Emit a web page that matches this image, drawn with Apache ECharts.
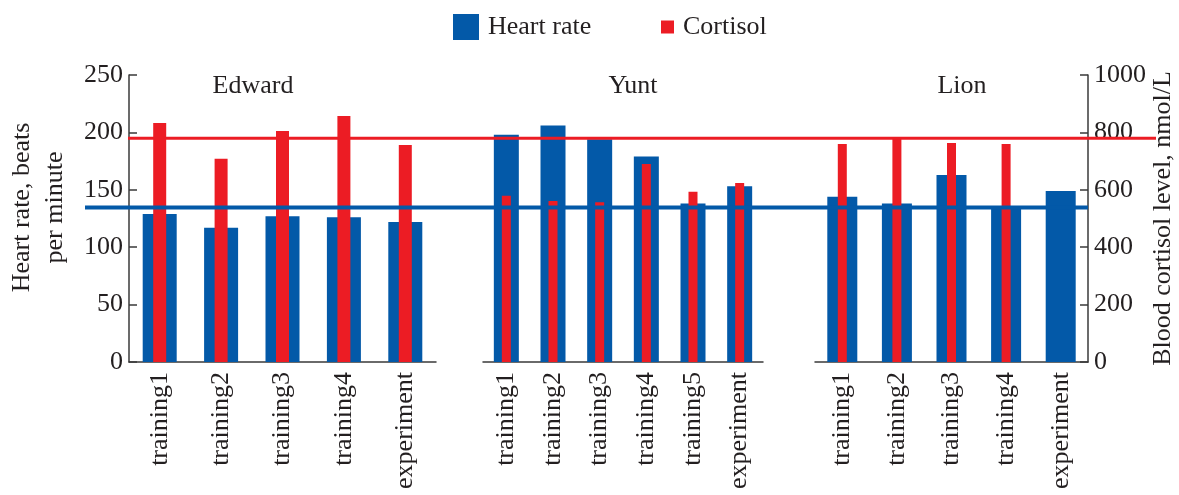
<!DOCTYPE html>
<html>
<head>
<meta charset="utf-8">
<script src="https://cdn.jsdelivr.net/npm/echarts@6/dist/echarts.min.js"></script>
<style>
  html, body { margin: 0; padding: 0; background: #fff; }
  #chart { width: 1179px; height: 495px; }
</style>
</head>
<body>
<div id="chart"></div>
<script>
// categories per animal
const edwardCats = ['training1', 'training2', 'training3', 'training4', 'experiment']
const yuntCats = ['training1', 'training2', 'training3', 'training4', 'training5', 'experiment']
const lionCats = ['training1', 'training2', 'training3', 'training4', 'experiment']

// heart rate, beats per minute
const edwardHR = [129, 117, 127, 126, 122]
const yuntHR = [198, 206, 194, 179, 138, 153]
const lionHR = [144, 138, 163, 135, 149]

// blood cortisol, nmol/L
const edwardCort = [833, 708, 805, 857, 756]
const yuntCort = [579, 561, 557, 690, 593, 624]
const lionCort = [760, 782, 763, 760, null]

// reference levels
const hrLevel = 134.5
const cortLevel = 780

const groupNames = ['Edward', 'Yunt', 'Lion']

const BLUE = '#0359a8'
const RED = '#ec1c24'
const INK = '#231f20'
const FONT = 'Liberation Serif'
const FSIZE = 26

const labelStyle = { fontFamily: FONT, fontSize: FSIZE, color: INK }
const lineStyle = { color: '#3a3a3a', width: 1.5 }

const plotTop = 75
const plotH = 287

const visibleX = (gridIndex, cats) => ({
  type: 'category',
  gridIndex: gridIndex,
  data: cats,
  axisLine: { lineStyle: lineStyle },
  axisTick: { inside: true, length: 8, lineStyle: lineStyle },
  axisLabel: Object.assign({ rotate: 90, interval: 0, margin: 10 }, labelStyle),
  splitLine: { show: false }
})

const hiddenX = (gridIndex, cats) => ({
  type: 'category', gridIndex: gridIndex, data: cats, show: false
})

const hiddenY = (gridIndex, max) => ({
  type: 'value', gridIndex: gridIndex, min: 0, max: max, show: false, splitLine: { show: false }
})

const barSeries = (name, color, xi, yi, data, width) => ({
  name: name,
  type: 'bar',
  xAxisIndex: xi,
  yAxisIndex: yi,
  data: data,
  barWidth: width,
  itemStyle: { color: color },
  z: 2
})

const groupTitle = (text, x) => ({
  type: 'text',
  x: x,
  y: 86,
  style: { text: text, align: 'center', verticalAlign: 'middle', fill: INK, font: FSIZE + 'px "Liberation Serif"' }
})

const option = {
  animation: false,
  backgroundColor: '#fff',
  legend: [
    {
      data: ['Heart rate'],
      left: 453,
      top: 14,
      padding: 0,
      icon: 'rect',
      itemWidth: 26,
      itemHeight: 26,
      textStyle: Object.assign({ padding: [0, 0, 0, 4] }, labelStyle)
    },
    {
      data: ['Cortisol'],
      left: 661,
      top: 14,
      padding: 0,
      icon: 'rect',
      itemWidth: 13,
      itemHeight: 13,
      textStyle: Object.assign({ padding: [0, 0, 0, 4] }, labelStyle)
    }
  ],
  grid: [
    { left: 129, top: plotTop, width: 307, height: plotH },
    { left: 483, top: plotTop, width: 280, height: plotH },
    { left: 815, top: plotTop, width: 273, height: plotH },
    // overlays for the two reference lines
    { left: 85, top: plotTop, width: 1003, height: plotH },
    { left: 128, top: plotTop, width: 1028, height: plotH }
  ],
  xAxis: [
    visibleX(0, edwardCats),
    hiddenX(0, edwardCats),
    visibleX(1, yuntCats),
    hiddenX(1, yuntCats),
    visibleX(2, lionCats),
    hiddenX(2, lionCats),
    { type: 'value', gridIndex: 3, min: 0, max: 1, show: false },
    { type: 'value', gridIndex: 4, min: 0, max: 1, show: false }
  ],
  yAxis: [
    {
      type: 'value',
      gridIndex: 0,
      min: 0,
      max: 250,
      interval: 50,
      position: 'left',
      name: 'Heart rate, beats\nper minute',
      nameLocation: 'middle',
      nameGap: 57,
      nameTextStyle: Object.assign({ lineHeight: 33, padding: [0, 0, 0, 22] }, labelStyle),
      axisLine: { show: true, lineStyle: lineStyle },
      axisTick: { show: true, inside: true, length: 8, lineStyle: lineStyle },
      axisLabel: Object.assign({ margin: 6 }, labelStyle),
      splitLine: { show: false }
    },
    hiddenY(0, 1000),
    hiddenY(1, 250),
    hiddenY(1, 1000),
    hiddenY(2, 250),
    {
      type: 'value',
      gridIndex: 2,
      min: 0,
      max: 1000,
      interval: 200,
      position: 'right',
      name: 'Blood cortisol level, nmol/L',
      nameLocation: 'middle',
      nameGap: 62,
      nameTextStyle: labelStyle,
      axisLine: { show: true, lineStyle: lineStyle },
      axisTick: { show: true, inside: true, length: 8, lineStyle: lineStyle },
      axisLabel: Object.assign({ margin: 6, formatter: (v) => String(v) }, labelStyle),
      splitLine: { show: false }
    },
    hiddenY(3, 250),
    hiddenY(4, 1000)
  ],
  graphic: [
    groupTitle(groupNames[0], 253),
    groupTitle(groupNames[1], 633),
    groupTitle(groupNames[2], 962)
  ],
  series: [
    barSeries('Heart rate', BLUE, 0, 0, edwardHR, 34),
    barSeries('Cortisol', RED, 1, 1, edwardCort, 13),
    barSeries('Heart rate', BLUE, 2, 2, yuntHR, 25),
    barSeries('Cortisol', RED, 3, 3, yuntCort, 9),
    barSeries('Heart rate', BLUE, 4, 4, lionHR, 30),
    barSeries('Cortisol', RED, 5, 5, lionCort, 9),
    {
      type: 'line',
      xAxisIndex: 6,
      yAxisIndex: 6,
      data: [[0, hrLevel], [1, hrLevel]],
      symbol: 'none',
      lineStyle: { color: BLUE, width: 4 },
      z: 5,
      silent: true
    },
    {
      type: 'line',
      xAxisIndex: 7,
      yAxisIndex: 7,
      data: [[0, cortLevel], [1, cortLevel]],
      symbol: 'none',
      lineStyle: { color: RED, width: 3 },
      z: 5,
      silent: true
    }
  ]
}

const chart = echarts.init(document.getElementById('chart'))
chart.setOption(option)
</script>
</body>
</html>
